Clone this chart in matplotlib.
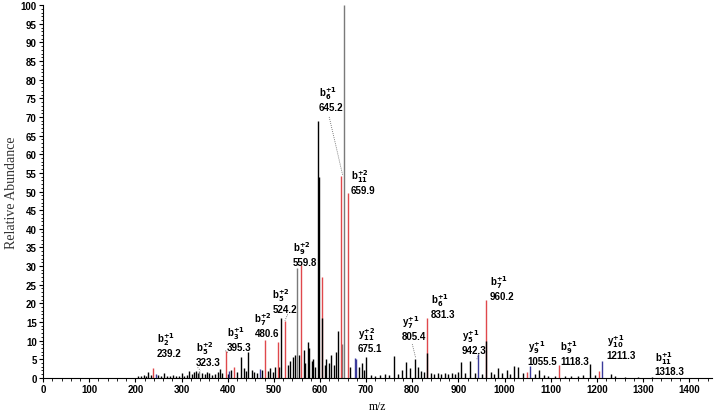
import matplotlib
matplotlib.use("Agg")
import matplotlib.pyplot as plt
from matplotlib.ticker import MultipleLocator

# main peaks (m/z, relative abundance) by colour
black_peaks = [(408, 2.0), (428, 5.5), (445, 7.0), (516, 16.0), (541, 5.5), (546, 6.0),
               (565, 7.5), (573, 9.5), (577, 8.0), (585, 5.0), (595, 69.0), (597, 54.0),
               (605, 16.0), (614, 5.0), (624, 6.0), (634, 7.0), (640, 12.5), (690, 4.0),
               (700, 5.5), (760, 5.8), (787, 4.3), (805, 5.0), (812, 3.0), (831, 6.7),
               (905, 4.3), (925, 4.6), (960, 10.0), (985, 2.5), (1005, 2.2), (1020, 3.2),
               (1030, 3.0), (1075, 2.2), (1185, 3.8), (1230, 1.0)]
grey_peaks = [(338, 1.8), (550, 29.5), (648, 9.0), (653, 100.0)]
red_peaks = [(239.2, 2.7), (395.3, 7.3), (414, 3.0), (480.6, 10.2), (508, 9.5),
             (524.2, 15.3), (559.8, 30.3), (605, 27.0), (645.2, 54.2), (659.9, 49.5),
             (831.3, 16.0), (960.2, 21.0), (1048, 1.5), (1118.3, 3.5), (1205, 1.8)]
blue_peaks = [(245, 0.9), (402, 1.8), (470, 2.3), (675, 5.2), (679, 5.0),
              (942.3, 6.4), (1055.5, 3.3), (1211.3, 4.6)]

# small background peaks
noise_peaks = [(205, 0.4), (212, 0.6), (218, 0.8), (222, 0.5), (228, 1.5), (233, 0.7),
               (250, 0.8), (256, 0.5), (262, 1.4), (268, 0.6), (275, 0.5), (281, 0.7),
               (288, 0.4), (294, 0.6), (300, 1.3), (306, 0.5), (312, 0.7), (317, 1.8),
               (322, 0.9), (327, 1.6), (331, 1.9), (335, 1.2), (345, 1.4), (350, 1.0),
               (355, 1.6), (360, 1.2), (366, 0.8), (372, 1.0), (378, 1.5), (383, 2.4),
               (388, 1.2), (400, 1.0), (420, 1.5), (435, 2.5), (440, 1.8), (452, 2.0),
               (458, 1.5), (463, 1.2), (475, 2.0), (487, 1.8), (492, 2.5), (498, 1.5),
               (503, 2.8), (512, 3.0), (530, 3.5), (535, 4.5), (555, 6.0), (568, 4.0),
               (582, 4.5), (590, 3.0), (610, 3.5), (620, 4.0), (630, 3.5), (665, 3.0),
               (685, 3.0), (695, 2.0), (710, 0.8), (720, 0.6), (730, 0.7), (740, 0.9),
               (750, 0.8), (770, 1.0), (778, 2.0), (795, 2.5), (818, 1.8), (825, 1.5),
               (840, 1.2), (848, 1.0), (855, 1.3), (862, 0.9), (870, 1.4), (878, 1.1),
               (885, 1.2), (893, 1.0), (900, 1.5), (915, 1.3), (935, 1.2), (950, 1.0),
               (970, 1.5), (978, 1.0), (995, 1.2), (1012, 0.9), (1040, 1.3), (1065, 1.0),
               (1085, 0.7), (1095, 0.5), (1110, 0.6), (1130, 0.5), (1145, 0.6), (1160, 0.5),
               (1170, 0.7), (1195, 0.8), (1240, 0.4), (1260, 0.3), (1290, 0.3), (1320, 0.3)]

# fragment labels: ion, index, charge, m/z text
ion_names = ["b", "b", "b", "b", "b", "b", "b", "b", "y", "y", "b", "y", "b", "y", "b", "y", "b"]
ion_index = ["2", "5", "3", "7", "5", "9", "6", "11", "11", "7", "6", "5", "7", "9", "9", "10", "11"]
ion_charge = ["+1", "+2", "+1", "+2", "+2", "+2", "+1", "+2", "+2", "+1", "+1", "+1", "+1", "+1", "+1", "+1", "+1"]
ion_mz = ["239.2", "323.3", "395.3", "480.6", "524.2", "559.8", "645.2", "659.9", "675.1",
          "805.4", "831.3", "942.3", "960.2", "1055.5", "1118.3", "1211.3", "1318.3"]
# label anchor (left x in m/z, centre y of the number line)
label_x = [247, 331, 398, 458, 497, 541, 597, 667, 682, 777, 840, 907, 968, 1050, 1121, 1221, 1325]
label_y = [6.7, 4.3, 8.3, 12.0, 18.6, 31.2, 72.8, 50.5, 8.0, 11.1, 17.2, 7.5, 21.9, 4.4, 4.4, 6.0, 1.7]

# dotted connectors from labels to peaks
connectors = [(620, 70.0, 649, 54.5), (800, 9.0, 807, 5.5), (335, 2.8, 341, 1.9),
              (400, 6.8, 395, 7.3), (530, 17.0, 524, 15.3), (940, 5.0, 944, 6.3)]

plt.rcParams['mathtext.default'] = 'bf'

fig = plt.figure(figsize=(7.18, 4.14), dpi=100)
ax = fig.add_axes([0.06, 0.085, 0.932, 0.9])

for peaks, col in [(noise_peaks, "black"), (blue_peaks, "#3a3a9a"), (grey_peaks, "#7a7a7a"),
                   (red_peaks, "#e0484c"), (black_peaks, "black")]:
    xs = [p[0] for p in peaks]
    ys = [p[1] for p in peaks]
    ax.vlines(xs, 0, ys, colors=col, linewidth=1.0)

for x0, y0, x1, y1 in connectors:
    ax.plot([x0, x1], [y0, y1], linestyle=(0, (1, 1.5)), color="#555555", linewidth=0.6)

for name, idx, ch, txt, lx, ly in zip(ion_names, ion_index, ion_charge, ion_mz, label_x, label_y):
    ax.text(lx, ly, txt, fontsize=7, fontweight="bold", family="Liberation Sans",
            ha="left", va="center")
    ax.text(lx, ly + 1.6, name + r"$_{" + idx + r"}^{" + ch + r"}$", fontsize=7,
            fontweight="bold", family="Liberation Sans", ha="left", va="bottom")

ax.set_ylim(0, 100)
ax.xaxis.set_minor_locator(MultipleLocator(20))
ax.yaxis.set_major_locator(MultipleLocator(5))
ax.yaxis.set_minor_locator(MultipleLocator(1))
ax.set_xticks(range(0, 1500, 100))
ax.set_xlim(0, 1450)
ax.spines["top"].set_visible(False)
ax.spines["right"].set_visible(False)
ax.tick_params(which="major", length=3, width=0.8, labelsize=7, pad=1.5)
ax.tick_params(which="minor", length=1.8, width=0.6)
for lab in ax.get_xticklabels() + ax.get_yticklabels():
    lab.set_fontweight("bold")
    lab.set_family("Liberation Sans")

ax.set_xlabel("m/z", family="Liberation Serif", fontsize=8.5, labelpad=4)
ax.set_ylabel("Relative Abundance", family="Liberation Serif", fontsize=10, color="#333333")
ax.yaxis.set_label_coords(-0.038, 0.5)

plt.savefig("out.png", dpi=100)
